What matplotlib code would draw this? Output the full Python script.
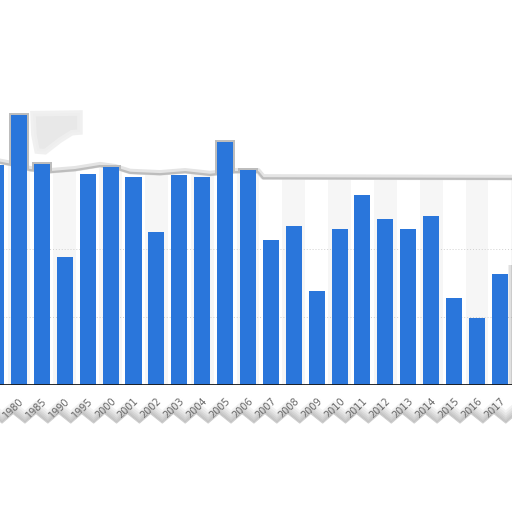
# bar chart by year, shown as a torn-out snippet of a bigger chart
import numpy as np
import matplotlib.pyplot as plt
from matplotlib.patches import Polygon

# the data
years = ['1975', '1980', '1985', '1990', '1995', '2000', '2001', '2002', '2003',
         '2004', '2005', '2006', '2007', '2008', '2009', '2010', '2011', '2012',
         '2013', '2014', '2015', '2016', '2017', '2018']
values = [32.4, 39.7, 32.5, 18.8, 31.0, 32.1, 30.6, 22.5, 30.9, 30.6, 35.7, 31.6,
          21.3, 23.4, 13.8, 22.9, 27.9, 24.4, 22.9, 24.9, 12.8, 9.9, 16.3, 17.6]
grid_values = [10, 20]

# the ragged top edge of the paper (x in categories, y in values)
tear_x = [0.0, 0.61, 1.48, 2.35, 3.45, 4.54, 5.19, 5.85, 7.16, 8.25, 9.34,
          10.43, 11.44, 11.66, 23.0]
tear_y = [32.8, 32.4, 31.6, 31.3, 31.6, 32.2, 31.9, 31.2, 31.0, 31.3, 30.9,
          31.3, 31.3, 30.4, 30.3]

blue = '#2a76db'
xmin, xmax = 0.17, 22.53
ymax = 385 / 6.8

fig = plt.figure(figsize=(5.12, 5.12), dpi=100)
ax = fig.add_axes([0, 127 / 512, 1, 385 / 512])

idx = np.arange(len(years))

# light stripes behind every other category
for i in idx[1::2]:
    ax.axvspan(i - 0.5, i + 0.5, color='#f6f6f6', lw=0, zorder=0)

# white paper above the tear
top = Polygon(list(zip(tear_x, tear_y)) + [(23.0, ymax + 5), (0.0, ymax + 5)],
              closed=True, facecolor='white', edgecolor='none', zorder=1)
ax.add_patch(top)

# gray smudge next to the tall bar
smudge = Polygon([(1.61, 39.9), (3.66, 40.0), (3.66, 37.2), (3.31, 37.1),
                  (2.79, 36.0), (2.14, 34.3), (1.79, 34.4), (1.65, 36.8)],
                 closed=True, facecolor='#e6e6e6', edgecolor='#efefef', lw=4,
                 alpha=0.9, zorder=1.5)
ax.add_patch(smudge)

for g in grid_values:
    ax.axhline(g, color='#d0d0d0', lw=0.7, ls=(0, (1, 2)), zorder=1.2)

# edge of the tear, a soft gray line
ax.plot(tear_x, np.array(tear_y) + 0.2, color='#e4e4e4', lw=4, zorder=1.3,
        solid_capstyle='butt')
ax.plot(tear_x, tear_y, color='#bdbdbd', lw=1.6, zorder=1.4)

# shadow round the bars where they stick out over the tear
halo = ax.bar(idx, np.array(values) + 0.3, width=0.87, color='#bdbdbd',
              zorder=2)
for b in halo:
    b.set_clip_path(top)

ax.bar(idx, values, width=0.7, color=blue, zorder=3)

# faint shade at the right edge, next bar just out of view
for k, a in enumerate([0.15, 0.3, 0.45]):
    x0 = 22.36 + k * 0.055
    ax.fill_between([x0, x0 + 0.055], 0, values[-1], color='#9a9a9a', alpha=a,
                    lw=0, zorder=2.5)

ax.axhline(0, color='#1a1a1a', lw=1.3, zorder=4)

for s in ax.spines.values():
    s.set_visible(False)
ax.set_yticks([])
ax.set_xticks(idx, years, rotation=45, ha='right', rotation_mode='anchor',
              fontsize=7, color='#666666')
ax.tick_params(axis='x', length=0, pad=8)
# set the limits after the ticks, or the ticks stretch them
ax.set_xlim(xmin, xmax)
ax.set_ylim(0, ymax)

# zigzag tear at the bottom
zx = []
zy = []
for i in range(-1, len(years) + 1):
    zx += [i + 0.26, i + 0.74]
    zy += [-5.6, -4.2]
zx = np.array(zx)
zy = np.array(zy)
for d in [0.25, 0.5, 0.8, 1.1, 1.5, 1.9]:
    ax.fill_between(zx, zy, zy + d, color='#777777', alpha=0.09, lw=0,
                    clip_on=False, zorder=1)
bottom = Polygon(list(zip(zx, zy)) + [(zx[-1], -25), (zx[0], -25)], closed=True,
                 facecolor='white', edgecolor='#cccccc', lw=0.8,
                 transform=ax.transData, zorder=10)
fig.add_artist(bottom)

fig.savefig('out.png', dpi=100, facecolor='white')
